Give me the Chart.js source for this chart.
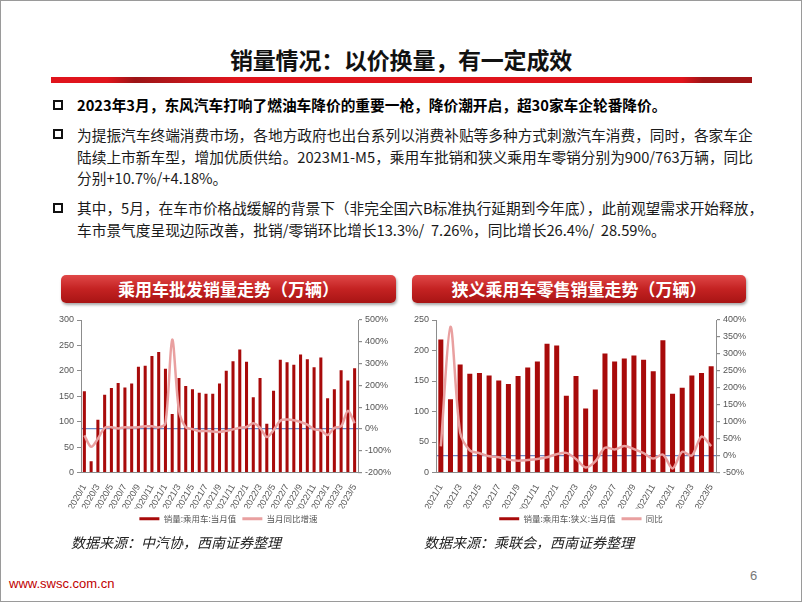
<!DOCTYPE html>
<html>
<head>
<meta charset="utf-8">
<script src="https://cdn.jsdelivr.net/npm/chart.js@4.4.0/dist/chart.umd.min.js"></script>
<style>
  html, body { margin: 0; padding: 0; background: #fff; }
  #slide { position: relative; width: 800px; height: 600px; border: 1px solid #9a9a9a; overflow: hidden;
           font-family: "Noto Sans CJK SC", "Noto Sans", sans-serif; }
  .abs { position: absolute; white-space: nowrap; }
  #title { left: 0; width: 800px; top: 41px; text-align: center; font-size: 23px; font-weight: 700; color: #111; letter-spacing: -0.2px; }
  #bar { left: 50px; top: 76px; width: 701px; height: 6px;
         background: linear-gradient(to right, #e0141c 0%, #e0141c 8%, #9c1416 12%, #c4161c 20%, #e0141c 26%, #e0141c 90%, #a01416 93%, #a01416 100%); }
  .sq { position: absolute; width: 6px; height: 6px; border: 2px solid #111; left: 52px; }
  .txt { position: absolute; left: 76px; font-size: 14.7px; color: #1a1a1a; line-height: 21.5px; white-space: nowrap; }
  .hdr { position: absolute; top: 274px; height: 28px; border-radius: 5px; color: #fff; font-weight: 700;
         font-size: 17px; text-align: center; line-height: 28px;
         background: linear-gradient(to bottom, #e04848 0%, #c42222 50%, #a81414 100%);
         box-shadow: 1px 2px 3px rgba(0,0,0,0.35); }
  .src { position: absolute; top: 531px; font-size: 14px; font-style: italic; color: #222; }
  canvas { position: absolute; }
</style>
</head>
<body>
<div id="slide">
  <div class="abs" id="title">销量情况：以价换量，有一定成效</div>
  <div class="abs" id="bar"></div>

  <div class="sq" style="top:99px"></div>
  <div class="txt" style="top:93px; font-weight:700; color:#000">2023年3月，东风汽车打响了燃油车降价的重要一枪，降价潮开启，超30家车企轮番降价。</div>

  <div class="sq" style="top:128px"></div>
  <div class="txt" style="top:123px">为提振汽车终端消费市场，各地方政府也出台系列以消费补贴等多种方式刺激汽车消费，同时，各家车企<br>陆续上市新车型，增加优质供给。2023M1-M5，乘用车批销和狭义乘用车零销分别为900/763万辆，同比<br>分别+10.7%/+4.18%。</div>

  <div class="sq" style="top:202px"></div>
  <div class="txt" style="top:196px">其中，5月，在车市价格战缓解的背景下（非完全国六B标准执行延期到今年底），此前观望需求开始释放，<br>车市景气度呈现边际改善，批销/零销环比增长13.3%/&nbsp; 7.26%，同比增长26.4%/&nbsp; 28.59%。</div>

  <div class="hdr" style="left:60px; width:335px">乘用车批发销量走势（万辆）</div>
  <div class="hdr" style="left:411px; width:334px">狭义乘用车零售销量走势（万辆）</div>

  <canvas id="c1" width="345" height="227" style="left:55px; top:305px"></canvas>
  <canvas id="c2" width="360" height="227" style="left:400px; top:305px"></canvas>

  <div class="src" style="left:70px">数据来源：中汽协，西南证券整理</div>
  <div class="src" style="left:423px">数据来源：乘联会，西南证券整理</div>

  <div class="abs" style="left:8px; top:575px; font-size:13px; color:#c00000; font-family:'Liberation Sans', Arial, sans-serif;">www.swsc.com.cn</div>
  <div class="abs" style="left:749px; top:567px; font-size:13px; color:#777; font-family:'Liberation Sans', Arial, sans-serif;">6</div>
</div>

<script>
// 乘用车批发 (中汽协)
var months1 = ["2020/1","2020/2","2020/3","2020/4","2020/5","2020/6","2020/7","2020/8","2020/9","2020/10","2020/11","2020/12",
  "2021/1","2021/2","2021/3","2021/4","2021/5","2021/6","2021/7","2021/8","2021/9","2021/10","2021/11","2021/12",
  "2022/1","2022/2","2022/3","2022/4","2022/5","2022/6","2022/7","2022/8","2022/9","2022/10","2022/11","2022/12",
  "2023/1","2023/2","2023/3","2023/4","2023/5"];
var wholesale = [160,22,104,153,166,176,167,175,208,210,229,237,
  204,115,186,170,164,157,155,155,175,200,219,242,
  218,148,186,96,161,222,217,212,232,223,207,226,
  146,164,201,181,205];
var wholesaleYoy = [-30,-82,-45,5,8,2,8,6,8,12,12,7,
  26,410,85,8,-1,-10,-9,-12,-14,-9,-2,5,
  9,26,5,-37,-6,38,43,40,32,20,-2,-6,
  -28,5,12,83,26];

// 狭义乘用车零售 (乘联会)
var months2 = ["2021/1","2021/2","2021/3","2021/4","2021/5","2021/6","2021/7","2021/8","2021/9","2021/10","2021/11","2021/12",
  "2022/1","2022/2","2022/3","2022/4","2022/5","2022/6","2022/7","2022/8","2022/9","2022/10","2022/11","2022/12",
  "2023/1","2023/2","2023/3","2023/4","2023/5"];
var retail = [218,120,177,162,163,159,151,145,158,172,182,211,
  208,126,158,105,136,195,182,187,192,185,166,217,
  129,139,159,163,174];
var retailYoy = [27,380,68,15,7,-2,-5,-12,-15,-13,-10,-5,
  4,8,-10,-35,-17,23,18,28,19,7,-9,3,
  -38,11,0,56,28];

var yTicks1 = { min: 0, max: 300, step: 50 };
var y1Ticks1 = { min: -200, max: 500, step: 100 };
var yTicks2 = { min: 0, max: 250, step: 50 };
var y1Ticks2 = { min: -50, max: 400, step: 50 };

var barColor = '#a80a0a';
var lineColor = '#e9a0a0';
var zeroColor = '#6a86c4';
var axisColor = '#8c8c8c';
var tickFont = { family: "'Liberation Sans', Arial, sans-serif", size: 9 };

function makeChart(id, labels, bars, yoy, barName, lineName, yT, y1T, leftW, rightW, barPct) {
  var ctx = document.getElementById(id).getContext('2d');
  return new Chart(ctx, {
    type: 'bar',
    data: {
      labels: labels,
      datasets: [
        { type: 'bar', label: barName, data: bars, backgroundColor: barColor, borderWidth: 0,
          yAxisID: 'y', order: 2, barPercentage: barPct, categoryPercentage: 1 },
        { type: 'line', label: lineName, data: yoy, borderColor: lineColor, backgroundColor: lineColor,
          borderWidth: 2.5, pointRadius: 0, tension: 0.3, yAxisID: 'y1', order: 1 }
      ]
    },
    options: {
      responsive: false,
      animation: false,
      layout: { padding: { top: 14, left: 0, right: 0, bottom: 0 } },
      plugins: {
        tooltip: { enabled: false },
        legend: {
          position: 'bottom',
          labels: {
            boxWidth: 20, boxHeight: 3, padding: 6, color: '#555',
            font: { family: "'Noto Sans CJK SC', sans-serif", size: 8.5 },
            sort: function (a, b) { return a.datasetIndex - b.datasetIndex; },
            generateLabels: function (chart) {
              var items = Chart.defaults.plugins.legend.labels.generateLabels(chart);
              items.forEach(function (it) { it.lineWidth = 0; });
              return items;
            }
          }
        }
      },
      scales: {
        x: {
          grid: { display: false },
          border: { display: true, color: axisColor },
          ticks: {
            autoSkip: false, minRotation: 60, maxRotation: 60, padding: 2,
            color: '#555', font: tickFont,
            callback: function (v, i) { return i % 2 === 0 ? this.getLabelForValue(v) : null; }
          },
          afterFit: function (s) { s.height = 36; }
        },
        y: {
          position: 'left', min: yT.min, max: yT.max,
          grid: { drawOnChartArea: false, color: axisColor, tickLength: 4 },
          border: { color: axisColor },
          ticks: { stepSize: yT.step, color: '#555', font: tickFont, padding: 3 },
          afterFit: function (s) { s.width = leftW; }
        },
        y1: {
          position: 'right', min: y1T.min, max: y1T.max, z: 1,
          grid: {
            drawOnChartArea: true, tickLength: 4, tickColor: axisColor, lineWidth: 1.2,
            color: function (c) { return c.tick && c.tick.value === 0 ? zeroColor : 'rgba(0,0,0,0)'; }
          },
          border: { color: axisColor },
          ticks: { stepSize: y1T.step, color: '#555', font: tickFont, padding: 3,
                   callback: function (v) { return v + '%'; } },
          afterFit: function (s) { s.width = rightW; }
        }
      }
    }
  });
}

makeChart('c1', months1, wholesale, wholesaleYoy, '销量:乘用车:当月值', '当月同比增速', yTicks1, y1Ticks1, 25, 43, 0.45);
makeChart('c2', months2, retail, retailYoy, '销量:乘用车:狭义:当月值', '同比', yTicks2, y1Ticks2, 35, 45, 0.52);
</script>
</body>
</html>
